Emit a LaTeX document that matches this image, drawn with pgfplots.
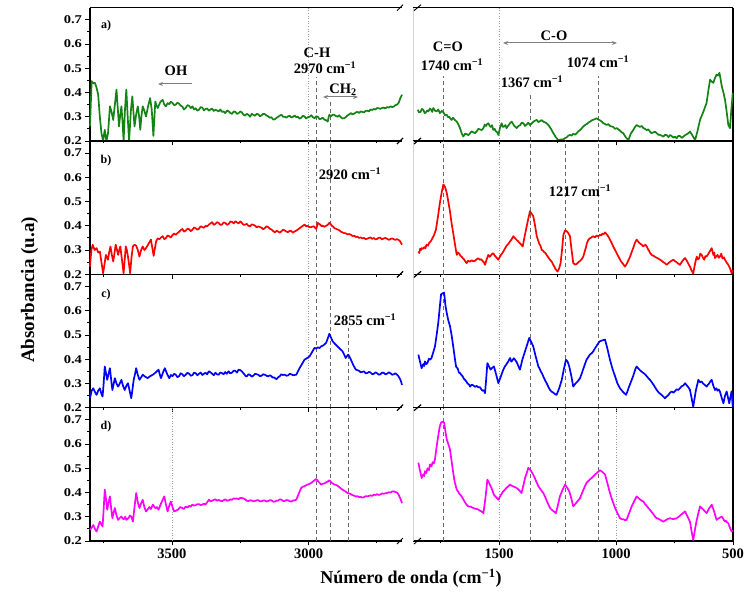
\documentclass[border=0pt]{standalone}
\usepackage{fontspec}
\setmainfont{Liberation Serif}
\usepackage{pgfplots}
\pgfplotsset{compat=1.18}
\usetikzlibrary{arrows.meta}
\definecolor{cgreen}{RGB}{20,130,20}
\definecolor{cred}{RGB}{255,0,0}
\definecolor{cblue}{RGB}{0,0,255}
\definecolor{cmag}{RGB}{255,0,255}
\definecolor{dgray}{RGB}{105,105,105}
\newcommand{\tf}{\fontsize{14.5}{16}\selectfont\bfseries}
\newcommand{\af}{\fontsize{14.5}{17}\selectfont\bfseries}
\newcommand{\cmm}{cm\textsuperscript{−1}}
\newcommand{\yl}[1]{\scalebox{1}[0.82]{#1}}
\tikzset{
  dl/.style={dgray, line width=0.8pt, dash pattern=on 4pt off 3pt},
  dt/.style={gray!80, dotted, line width=0.6pt},
}
\pgfplotsset{
  panel/.style={scale only axis, height=133.3pt, ymin=0.2, ymax=0.75, clip=false, x dir=reverse,
    axis x line*=box, xtick pos=bottom, tick align=outside,
    axis line style={line width=1.2pt, black},
    major tick length=4.5pt, minor tick length=2.5pt,
    tick style={black, line width=0.9pt},
    tick label style={font=\tf},
    yticklabel style={inner ysep=0pt},
    every axis plot/.append style={line width=1.7pt, line join=round}},
  leftp/.style={panel, width=312pt, xmin=2658, xmax=3800, axis y line*=left, ytick pos=left,
    ytick={0.2,0.3,0.4,0.5,0.6,0.7}, yticklabels={\yl{0.2},\yl{0.3},\yl{0.4},\yl{0.5},\yl{0.6},\yl{0.7}},
    minor ytick={0.25,0.35,0.45,0.55,0.65},
    xtick={3500,3000}, minor xtick={3750,3250,2750}},
  rightp/.style={panel, width=320pt, xmin=500, xmax=1868, axis y line*=right, ytick=\empty,
    xtick={1500,1000,500}, minor xtick={1750,1250,750}},
}
\newcommand{\brkL}{\draw[line width=0.9pt] ([xshift=-5pt,yshift=-3pt]rel axis cs:1,0) -- ([xshift=1pt,yshift=3pt]rel axis cs:1,0);
  \draw[line width=0.9pt] ([xshift=-5pt,yshift=-3pt]rel axis cs:1,1) -- ([xshift=1pt,yshift=3pt]rel axis cs:1,1);}
\newcommand{\brkR}{\draw[gray!35, line width=0.6pt] (rel axis cs:0,0) -- (rel axis cs:0,1);
  \draw[line width=0.9pt] ([xshift=1pt,yshift=-3pt]rel axis cs:0,0) -- ([xshift=8pt,yshift=3pt]rel axis cs:0,0);
  \draw[line width=0.9pt] ([xshift=1pt,yshift=-3pt]rel axis cs:0,1) -- ([xshift=8pt,yshift=3pt]rel axis cs:0,1);}
\begin{document}
\begin{tikzpicture}[x=1pt,y=1pt]
\useasboundingbox (0,0) rectangle (745,592);
% ---------------- panel a ----------------
\begin{axis}[leftp, at={(90pt,451pt)}, anchor=south west, xticklabels={,,}]
\draw[dt] (axis cs:3000,0.2) -- (axis cs:3000,0.75);
\draw[dl] (axis cs:2970,0.2) -- (axis cs:2970,0.466);
\draw[dl] (axis cs:2920,0.2) -- (axis cs:2920,0.37);
\addplot[cgreen] coordinates {
(3800,0.260)(3794,0.447)(3788,0.438)(3782,0.440)(3776,0.420)(3770,0.391)(3764,0.300)(3758,0.232)(3752,0.200)(3746,0.246)(3740,0.200)(3734,0.232)
(3727,0.343)(3721,0.320)(3715,0.287)(3709,0.350)(3703,0.412)(3698,0.330)(3694,0.260)(3690,0.300)(3685,0.343)(3681,0.280)(3677,0.200)(3672,0.330)(3667,0.412)(3662,0.300)(3657,0.200)
(3650,0.330)(3645,0.384)(3641,0.320)(3637,0.260)(3631,0.310)(3625,0.343)(3620,0.300)(3616,0.246)(3612,0.300)(3607,0.343)(3601,0.325)(3595,0.301)(3588,0.340)(3580,0.377)(3574,0.330)(3568,0.221)
(3561,0.363)(3556,0.345)(3552,0.336)(3543,0.360)(3534,0.370)(3528,0.350)(3522,0.343)(3516,0.356)(3510,0.352)(3504,0.362)(3498,0.357)(3492,0.348)(3486,0.350)(3480,0.358)(3474,0.354)(3468,0.346)(3462,0.342)(3456,0.330)(3450,0.336)(3443,0.348)(3437,0.345)(3431,0.336)(3425,0.343)
(3419,0.330)(3413,0.335)(3407,0.325)(3401,0.329)(3395,0.340)(3389,0.338)(3383,0.326)(3377,0.332)(3371,0.334)(3365,0.325)(3359,0.330)(3353,0.334)(3347,0.324)(3341,0.329)(3335,0.326)(3329,0.322)(3323,0.330)(3317,0.320)(3311,0.322)(3305,0.315)(3298,0.326)(3292,0.322)(3286,0.315)(3280,0.312)(3274,0.322)(3268,0.320)(3262,0.312)(3256,0.315)(3250,0.322)(3244,0.318)(3238,0.308)(3232,0.305)
(3226,0.312)(3220,0.308)(3214,0.300)(3208,0.312)(3202,0.308)(3196,0.304)(3190,0.312)(3184,0.310)(3178,0.302)(3172,0.306)(3166,0.312)(3160,0.311)(3154,0.305)(3148,0.302)(3142,0.296)(3136,0.298)(3129,0.288)(3123,0.290)(3117,0.296)(3111,0.300)(3105,0.305)(3099,0.308)(3093,0.300)(3087,0.300)(3081,0.296)(3075,0.302)(3069,0.304)(3063,0.297)(3057,0.300)(3051,0.305)(3045,0.298)(3039,0.300)
(3033,0.292)(3027,0.296)(3021,0.304)(3015,0.301)(3009,0.293)(3003,0.298)(2996,0.300)(2990,0.306)(2984,0.298)(2978,0.294)(2972,0.302)(2966,0.300)(2960,0.290)(2954,0.292)(2948,0.296)(2942,0.288)(2936,0.286)(2930,0.280)(2926,0.300)(2924,0.308)(2918,0.302)(2912,0.308)(2906,0.308)(2900,0.303)(2894,0.300)(2888,0.306)(2882,0.298)(2876,0.293)(2870,0.294)(2864,0.298)(2858,0.305)
(2851,0.310)(2845,0.315)(2839,0.310)(2833,0.313)(2827,0.318)(2821,0.320)(2815,0.316)(2809,0.322)(2803,0.320)(2797,0.318)(2791,0.324)(2785,0.325)(2779,0.322)(2773,0.330)(2767,0.328)(2761,0.332)(2755,0.330)(2749,0.336)(2743,0.335)(2737,0.333)(2731,0.336)(2725,0.338)(2719,0.334)(2713,0.340)(2706,0.338)(2700,0.343)(2694,0.340)(2688,0.342)(2682,0.348)(2676,0.350)(2670,0.358)(2664,0.377)(2658,0.391)};
\brkL
\end{axis}
\begin{axis}[rightp, at={(413pt,451pt)}, anchor=south west, xticklabels={,,}]
\draw[dt] (axis cs:1500,0.2) -- (axis cs:1500,0.75);
\draw[dl] (axis cs:1740,0.2) -- (axis cs:1740,0.47);
\draw[dl] (axis cs:1367,0.2) -- (axis cs:1367,0.40);
\draw[dl] (axis cs:1074,0.2) -- (axis cs:1074,0.47);
\addplot[cgreen] coordinates {
(1848,0.329)(1842,0.318)(1836,0.320)(1830,0.332)(1824,0.329)(1818,0.315)(1813,0.318)(1807,0.326)(1802,0.322)(1796,0.334)(1791,0.330)(1786,0.320)(1781,0.336)(1774,0.325)(1767,0.322)(1760,0.330)(1753,0.315)(1745,0.324)(1738,0.318)(1731,0.306)(1724,0.308)(1718,0.298)(1713,0.300)(1708,0.292)(1703,0.287)(1697,0.296)(1692,0.290)(1686,0.284)(1681,0.280)
(1674,0.268)(1667,0.253)(1660,0.232)(1653,0.218)(1645,0.230)(1638,0.228)(1631,0.224)(1624,0.232)(1617,0.240)(1610,0.236)(1603,0.232)(1596,0.239)(1589,0.250)(1582,0.248)(1574,0.245)(1567,0.253)(1561,0.268)(1556,0.262)(1551,0.270)(1546,0.273)(1540,0.262)(1535,0.258)(1530,0.265)(1525,0.246)(1519,0.250)(1514,0.240)(1508,0.236)(1503,0.225)
(1496,0.255)(1489,0.273)(1484,0.258)(1478,0.260)(1473,0.266)(1468,0.253)(1462,0.262)(1457,0.268)(1451,0.276)(1446,0.280)(1440,0.270)(1435,0.262)(1430,0.258)(1425,0.253)(1417,0.262)(1410,0.265)(1403,0.276)(1396,0.273)(1389,0.262)(1382,0.268)(1375,0.275)(1368,0.266)(1361,0.272)(1353,0.280)(1346,0.284)(1339,0.287)(1332,0.278)(1325,0.282)(1318,0.286)(1311,0.280)
(1300,0.275)(1289,0.266)(1278,0.250)(1268,0.232)(1257,0.215)(1247,0.204)(1236,0.206)(1225,0.207)(1218,0.212)(1211,0.215)(1204,0.222)(1197,0.225)(1190,0.222)(1183,0.230)(1175,0.226)(1168,0.232)(1161,0.240)(1154,0.245)(1147,0.252)(1140,0.260)(1132,0.266)(1125,0.270)(1118,0.276)(1111,0.280)
(1104,0.285)(1097,0.288)(1090,0.290)(1083,0.294)(1075,0.288)(1068,0.285)(1061,0.280)(1054,0.273)(1047,0.270)(1040,0.266)(1033,0.270)(1026,0.262)(1019,0.260)(1012,0.258)(1004,0.250)(997,0.253)(990,0.248)(983,0.243)(976,0.236)(969,0.232)(958,0.215)(947,0.204)(937,0.230)(926,0.246)(919,0.258)(912,0.266)
(905,0.262)(898,0.258)(890,0.262)(883,0.253)(876,0.250)(869,0.245)(862,0.248)(855,0.239)(848,0.232)(840,0.236)(833,0.238)(826,0.232)(819,0.226)(812,0.225)(805,0.222)(798,0.218)(790,0.226)(783,0.224)(776,0.216)(769,0.225)(762,0.220)(755,0.214)(748,0.218)(741,0.211)(733,0.222)(726,0.220)(719,0.213)(712,0.218)(705,0.224)(698,0.228)(691,0.232)(684,0.239)(678,0.230)(673,0.222)(667,0.212)(662,0.204)
(652,0.240)(641,0.287)(627,0.320)(613,0.357)(605,0.410)(598,0.453)(591,0.445)(584,0.440)(577,0.460)(570,0.474)(564,0.470)(558,0.481)(553,0.455)(548,0.426)(541,0.400)(534,0.370)(527,0.320)(520,0.266)(513,0.253)(507,0.330)(501,0.398)};
\brkR
\end{axis}
% ---------------- panel b ----------------
\begin{axis}[leftp, at={(90pt,317.7pt)}, anchor=south west, xticklabels={,,}]
\draw[dt] (axis cs:3000,0.2) -- (axis cs:3000,0.75);
\draw[dl] (axis cs:2970,0.2) -- (axis cs:2970,0.75);
\draw[dl] (axis cs:2920,0.2) -- (axis cs:2920,0.75);
\addplot[cred] coordinates {
(3800,0.232)(3795,0.300)(3790,0.322)(3783,0.300)(3776,0.308)(3770,0.290)(3764,0.294)(3758,0.250)(3752,0.204)(3747,0.240)(3742,0.280)(3738,0.270)(3734,0.260)(3730,0.290)(3725,0.315)(3720,0.280)
(3715,0.253)(3710,0.290)(3706,0.322)(3701,0.300)(3697,0.280)(3693,0.300)(3689,0.315)(3683,0.260)(3677,0.204)(3673,0.260)(3669,0.315)(3665,0.300)(3661,0.273)(3657,0.240)(3653,0.204)(3648,0.270)
(3643,0.315)(3637,0.322)(3631,0.318)(3625,0.300)(3619,0.273)(3613,0.300)(3607,0.315)(3601,0.300)(3595,0.308)(3586,0.325)(3577,0.343)(3572,0.310)(3567,0.276)(3562,0.310)(3558,0.336)(3552,0.348)(3546,0.345)
(3540,0.352)(3534,0.357)(3528,0.345)(3522,0.350)(3516,0.360)(3510,0.357)(3504,0.352)(3498,0.362)(3492,0.368)(3486,0.363)(3480,0.370)(3474,0.375)(3468,0.382)(3462,0.387)(3456,0.376)(3450,0.380)(3443,0.388)(3437,0.386)(3431,0.378)(3425,0.384)(3419,0.393)(3413,0.390)(3407,0.384)(3401,0.388)(3395,0.398)(3389,0.395)(3383,0.392)(3377,0.400)(3371,0.398)(3365,0.405)(3359,0.410)(3353,0.415)
(3347,0.404)(3341,0.408)(3335,0.415)(3329,0.412)(3323,0.404)(3317,0.405)(3311,0.414)(3305,0.412)(3298,0.404)(3292,0.408)(3286,0.418)(3280,0.416)(3274,0.410)(3268,0.419)(3262,0.414)(3256,0.410)(3250,0.418)(3244,0.412)(3238,0.404)(3232,0.405)(3226,0.408)(3220,0.400)(3214,0.398)(3208,0.406)(3202,0.404)(3196,0.401)(3190,0.394)(3184,0.398)(3178,0.395)(3172,0.392)(3166,0.386)(3160,0.391)
(3154,0.398)(3148,0.395)(3142,0.388)(3136,0.385)(3129,0.378)(3123,0.373)(3117,0.380)(3111,0.376)(3105,0.372)(3099,0.378)(3093,0.384)(3087,0.381)(3081,0.376)(3075,0.374)(3069,0.380)(3063,0.378)(3057,0.372)(3051,0.377)(3045,0.380)(3039,0.385)(3033,0.390)(3027,0.395)(3021,0.400)(3015,0.405)(3009,0.398)(3003,0.400)(2996,0.394)(2990,0.395)(2981,0.398)(2972,0.387)
(2966,0.412)(2962,0.408)(2957,0.405)(2952,0.398)(2948,0.401)(2942,0.396)(2936,0.400)(2930,0.404)(2924,0.412)(2918,0.406)(2915,0.400)(2910,0.397)(2906,0.391)(2900,0.388)(2894,0.385)(2888,0.382)(2882,0.376)(2876,0.373)(2870,0.370)(2864,0.369)(2858,0.365)(2851,0.366)(2845,0.363)(2839,0.358)(2833,0.359)(2827,0.354)(2821,0.355)(2815,0.350)(2809,0.352)(2803,0.348)(2797,0.350)
(2791,0.345)(2785,0.347)(2779,0.350)(2773,0.352)(2767,0.346)(2761,0.350)(2755,0.344)(2749,0.346)(2743,0.351)(2737,0.350)(2731,0.344)(2725,0.348)(2719,0.350)(2713,0.347)(2706,0.342)(2700,0.346)(2694,0.348)(2688,0.345)(2682,0.342)(2676,0.345)(2671,0.342)(2666,0.338)(2662,0.330)(2658,0.322)};
\brkL
\end{axis}
\begin{axis}[rightp, at={(413pt,317.7pt)}, anchor=south west, xticklabels={,,}]
\draw[dt] (axis cs:1500,0.2) -- (axis cs:1500,0.75);
\draw[dl] (axis cs:1740,0.2) -- (axis cs:1740,0.75);
\draw[dl] (axis cs:1367,0.2) -- (axis cs:1367,0.75);
\draw[dl] (axis cs:1217,0.2) -- (axis cs:1217,0.75);
\draw[dl] (axis cs:1074,0.2) -- (axis cs:1074,0.75);
\addplot[cred] coordinates {
(1845,0.294)(1841,0.288)(1838,0.305)(1834,0.300)(1831,0.308)(1825,0.305)(1820,0.312)(1815,0.308)(1810,0.322)(1804,0.318)(1799,0.330)(1793,0.335)(1788,0.343)(1779,0.360)(1770,0.384)(1761,0.440)(1753,0.495)(1745,0.540)(1738,0.571)(1731,0.560)(1724,0.537)
(1717,0.500)(1710,0.460)(1703,0.410)(1696,0.370)(1688,0.320)(1681,0.280)(1676,0.290)(1670,0.285)(1665,0.276)(1660,0.273)(1655,0.266)(1650,0.262)(1645,0.254)(1639,0.246)(1632,0.256)(1625,0.252)(1617,0.258)(1610,0.253)(1603,0.256)(1596,0.262)(1589,0.266)(1582,0.260)(1576,0.262)(1571,0.255)(1565,0.250)(1560,0.239)
(1553,0.262)(1546,0.280)(1540,0.272)(1535,0.278)(1530,0.284)(1525,0.287)(1519,0.278)(1514,0.272)(1508,0.266)(1503,0.260)(1497,0.272)(1492,0.280)(1487,0.286)(1482,0.294)(1475,0.306)(1468,0.318)(1460,0.326)(1453,0.336)(1446,0.345)(1439,0.357)(1433,0.350)(1428,0.345)(1423,0.340)(1418,0.336)(1413,0.330)(1408,0.325)(1403,0.320)(1399,0.315)
(1390,0.360)(1382,0.398)(1375,0.430)(1368,0.460)(1361,0.450)(1354,0.440)(1346,0.400)(1339,0.357)(1333,0.340)(1328,0.325)(1323,0.318)(1318,0.301)(1313,0.298)(1308,0.292)(1302,0.288)(1297,0.280)(1290,0.270)(1282,0.260)(1275,0.252)(1268,0.239)(1259,0.222)(1250,0.211)
(1243,0.225)(1237,0.246)(1231,0.300)(1225,0.363)(1218,0.381)(1211,0.378)(1204,0.370)(1197,0.357)(1190,0.300)(1183,0.246)(1175,0.240)(1168,0.243)(1161,0.250)(1154,0.255)(1147,0.262)(1140,0.273)(1135,0.290)(1129,0.310)(1124,0.330)(1118,0.343)
(1113,0.348)(1108,0.350)(1102,0.355)(1097,0.357)(1090,0.352)(1083,0.360)(1076,0.356)(1069,0.363)(1063,0.360)(1058,0.368)(1052,0.366)(1047,0.373)(1041,0.366)(1036,0.360)(1031,0.352)(1026,0.343)(1019,0.330)(1012,0.315)(1004,0.300)(997,0.287)(988,0.270)(980,0.255)(971,0.244)(962,0.232)(956,0.240)(951,0.250)(945,0.262)(940,0.273)(933,0.292)(926,0.310)(919,0.330)(912,0.343)
(906,0.336)(901,0.330)(895,0.325)(890,0.322)(885,0.316)(880,0.318)(874,0.322)(869,0.315)(864,0.305)(858,0.295)(853,0.286)(848,0.280)(839,0.276)(830,0.270)(821,0.266)(812,0.260)(805,0.256)(798,0.250)(791,0.246)(784,0.239)(776,0.246)(769,0.252)(762,0.256)(755,0.260)(748,0.254)(741,0.250)(734,0.244)(727,0.239)(721,0.248)(716,0.255)(710,0.262)(705,0.267)(699,0.258)(694,0.250)
(689,0.240)(684,0.232)(677,0.215)(670,0.204)(662,0.245)(655,0.273)(650,0.262)(645,0.265)(640,0.285)(634,0.280)(628,0.268)(623,0.260)(618,0.275)(613,0.273)(607,0.282)(602,0.290)(596,0.300)(591,0.308)(584,0.280)(580,0.290)(577,0.267)(571,0.275)(566,0.280)(561,0.268)(556,0.273)(550,0.285)(545,0.265)(539,0.270)(534,0.260)
(527,0.248)(520,0.239)(513,0.225)(506,0.204)(501,0.218)};
\brkR
\end{axis}
% ---------------- panel c ----------------
\begin{axis}[leftp, at={(90pt,184.3pt)}, anchor=south west, xticklabels={,,}]
\draw[dt] (axis cs:3000,0.2) -- (axis cs:3000,0.75);
\draw[dl] (axis cs:2970,0.2) -- (axis cs:2970,0.75);
\draw[dl] (axis cs:2920,0.2) -- (axis cs:2920,0.75);
\draw[dl] (axis cs:2855,0.2) -- (axis cs:2855,0.53);
\addplot[cblue] coordinates {
(3800,0.239)(3794,0.270)(3788,0.280)(3782,0.265)(3776,0.253)(3770,0.270)(3764,0.280)(3759,0.260)(3754,0.246)(3750,0.300)(3746,0.370)(3741,0.340)(3737,0.315)(3732,0.340)(3727,0.363)(3722,0.310)
(3718,0.273)(3713,0.300)(3709,0.322)(3703,0.300)(3697,0.287)(3691,0.300)(3685,0.315)(3679,0.290)(3673,0.273)(3667,0.290)(3661,0.301)(3655,0.270)(3649,0.239)(3644,0.280)(3640,0.315)(3635,0.340)
(3631,0.363)(3625,0.335)(3619,0.315)(3613,0.325)(3607,0.336)(3598,0.328)(3589,0.322)(3580,0.330)(3570,0.336)(3560,0.345)(3549,0.357)(3544,0.335)(3540,0.322)(3533,0.345)(3526,0.363)(3518,0.340)
(3510,0.322)(3504,0.335)(3498,0.330)(3492,0.340)(3486,0.336)(3480,0.326)(3474,0.330)(3468,0.342)(3462,0.338)(3456,0.330)(3450,0.336)(3443,0.344)(3437,0.340)(3431,0.332)(3425,0.334)(3419,0.345)(3413,0.342)(3407,0.334)(3401,0.340)(3395,0.345)(3389,0.335)(3383,0.340)(3377,0.344)(3371,0.338)(3365,0.350)(3359,0.346)(3353,0.340)(3347,0.334)(3341,0.344)(3335,0.338)(3329,0.336)
(3323,0.345)(3317,0.343)(3311,0.338)(3305,0.347)(3299,0.340)(3293,0.350)(3287,0.342)(3280,0.345)(3274,0.353)(3268,0.352)(3262,0.345)(3256,0.357)(3250,0.355)(3244,0.350)(3240,0.344)(3235,0.338)(3230,0.330)(3226,0.329)(3220,0.338)(3214,0.335)(3208,0.328)(3202,0.332)(3196,0.340)(3190,0.338)(3184,0.336)(3178,0.330)(3172,0.332)(3166,0.338)(3160,0.336)(3154,0.332)(3148,0.329)
(3142,0.334)(3136,0.330)(3131,0.324)(3126,0.325)(3121,0.320)(3117,0.318)(3111,0.326)(3105,0.330)(3100,0.338)(3095,0.335)(3087,0.336)(3081,0.332)(3075,0.333)(3069,0.340)(3063,0.338)(3057,0.334)(3051,0.335)(3045,0.336)(3039,0.350)(3033,0.363)(3024,0.380)(3015,0.398)(3005,0.405)(2996,0.412)
(2987,0.430)(2978,0.447)(2972,0.444)(2966,0.449)(2960,0.446)(2954,0.453)(2945,0.458)(2936,0.467)(2930,0.485)(2924,0.505)(2918,0.490)(2912,0.474)(2903,0.463)(2894,0.453)(2885,0.443)(2876,0.433)(2870,0.420)(2864,0.405)
(2860,0.412)(2855,0.419)(2850,0.410)(2845,0.398)(2836,0.375)(2827,0.357)(2821,0.355)(2815,0.352)(2809,0.346)(2803,0.348)(2797,0.350)(2791,0.342)(2785,0.343)(2779,0.348)(2773,0.345)(2767,0.338)(2761,0.340)(2755,0.346)(2749,0.342)(2743,0.336)(2737,0.338)(2731,0.345)(2725,0.344)(2719,0.338)(2713,0.340)
(2706,0.346)(2700,0.342)(2694,0.336)(2688,0.338)(2682,0.342)(2676,0.336)(2671,0.330)(2666,0.320)(2662,0.310)(2658,0.294)};
\brkL
\end{axis}
\begin{axis}[rightp, at={(413pt,184.3pt)}, anchor=south west, xticklabels={,,}]
\draw[dt] (axis cs:1500,0.2) -- (axis cs:1500,0.75);
\draw[dl] (axis cs:1740,0.2) -- (axis cs:1740,0.75);
\draw[dl] (axis cs:1367,0.2) -- (axis cs:1367,0.75);
\draw[dl] (axis cs:1217,0.2) -- (axis cs:1217,0.75);
\draw[dl] (axis cs:1074,0.2) -- (axis cs:1074,0.75);
\addplot[cblue] coordinates {
(1845,0.419)(1838,0.390)(1831,0.363)(1824,0.380)(1820,0.372)(1817,0.391)(1811,0.380)(1806,0.385)(1800,0.402)(1795,0.398)(1789,0.405)(1784,0.420)(1774,0.453)(1767,0.500)(1760,0.550)(1754,0.610)(1748,0.668)(1741,0.672)(1735,0.675)(1729,0.620)
(1724,0.592)(1717,0.560)(1710,0.537)(1703,0.500)(1696,0.453)(1690,0.410)(1684,0.370)(1676,0.360)(1672,0.345)(1667,0.343)(1661,0.335)(1656,0.330)(1651,0.320)(1646,0.315)(1640,0.308)(1635,0.300)(1629,0.296)(1624,0.287)(1617,0.295)(1610,0.292)(1603,0.286)(1596,0.290)(1589,0.284)(1582,0.285)
(1576,0.276)(1571,0.270)(1565,0.272)(1560,0.260)(1555,0.320)(1550,0.384)(1543,0.370)(1536,0.357)(1529,0.365)(1522,0.370)(1512,0.335)(1503,0.301)(1492,0.330)(1482,0.357)(1475,0.370)(1468,0.380)(1460,0.392)(1453,0.405)(1448,0.390)(1443,0.395)(1437,0.404)(1432,0.398)
(1426,0.390)(1421,0.380)(1416,0.368)(1411,0.357)(1405,0.380)(1400,0.400)(1389,0.433)(1380,0.460)(1371,0.488)(1362,0.470)(1354,0.453)(1343,0.410)(1332,0.370)(1327,0.362)(1322,0.350)(1316,0.340)(1311,0.329)(1303,0.312)(1296,0.300)(1289,0.285)(1282,0.273)(1275,0.266)(1268,0.262)(1261,0.256)(1254,0.253)
(1243,0.280)(1232,0.315)(1223,0.360)(1214,0.398)(1207,0.390)(1200,0.370)(1191,0.330)(1183,0.287)(1175,0.298)(1168,0.305)(1161,0.312)(1154,0.322)(1147,0.340)(1140,0.360)(1133,0.380)(1126,0.398)(1118,0.410)(1111,0.420)(1104,0.425)(1097,0.433)(1090,0.445)(1083,0.455)(1076,0.466)(1069,0.474)
(1058,0.478)(1047,0.481)(1036,0.440)(1026,0.398)(1015,0.360)(1004,0.329)(994,0.300)(983,0.280)(970,0.265)(957,0.253)(951,0.268)(945,0.285)(939,0.300)(933,0.315)(927,0.330)(922,0.345)(917,0.360)(912,0.370)(905,0.362)(898,0.355)(890,0.348)(883,0.343)(876,0.338)(869,0.330)
(862,0.322)(855,0.315)(848,0.306)(840,0.295)(833,0.284)(826,0.273)(817,0.262)(808,0.255)(800,0.248)(791,0.239)(784,0.246)(776,0.252)(769,0.262)(762,0.267)(755,0.262)(748,0.268)(741,0.276)(734,0.273)(727,0.280)(720,0.288)(712,0.292)(705,0.301)(700,0.295)(694,0.288)(689,0.282)(684,0.273)(677,0.240)(670,0.204)(659,0.270)(648,0.315)
(641,0.305)(634,0.308)(628,0.300)(623,0.296)(618,0.292)(613,0.287)(607,0.295)(602,0.300)(596,0.310)(591,0.315)(584,0.290)(577,0.273)(571,0.280)(566,0.270)(561,0.275)(556,0.267)(548,0.240)(541,0.218)(534,0.250)(527,0.267)(521,0.240)(516,0.218)(511,0.245)(506,0.267)(501,0.204)};
\brkR
\end{axis}
% ---------------- panel d ----------------
\begin{axis}[leftp, at={(90pt,51pt)}, anchor=south west, xticklabels={3500,3000}]
\draw[dt] (axis cs:3500,0.2) -- (axis cs:3500,0.75);
\draw[dl] (axis cs:2970,0.2) -- (axis cs:2970,0.75);
\draw[dl] (axis cs:2920,0.2) -- (axis cs:2920,0.75);
\draw[dl] (axis cs:2855,0.2) -- (axis cs:2855,0.75);
\addplot[cmag] coordinates {
(3800,0.246)(3794,0.255)(3788,0.266)(3782,0.250)(3776,0.239)(3770,0.260)(3764,0.280)(3759,0.270)(3754,0.260)(3750,0.330)(3746,0.412)(3741,0.370)(3737,0.329)(3732,0.360)(3727,0.384)(3722,0.330)
(3718,0.294)(3713,0.320)(3709,0.336)(3703,0.305)(3697,0.287)(3691,0.295)(3685,0.301)(3680,0.292)(3676,0.290)(3671,0.300)(3667,0.287)(3662,0.292)(3658,0.296)(3654,0.305)(3649,0.301)(3643,0.280)(3637,0.340)(3631,0.398)(3625,0.360)(3619,0.336)
(3613,0.355)(3607,0.370)(3601,0.340)(3595,0.322)(3589,0.330)(3583,0.340)(3577,0.332)(3570,0.350)(3565,0.342)(3560,0.335)(3555,0.340)(3549,0.329)(3538,0.360)(3528,0.384)(3522,0.350)(3516,0.322)(3510,0.345)(3504,0.363)(3498,0.340)(3492,0.322)
(3484,0.326)(3477,0.330)(3470,0.340)(3462,0.336)(3456,0.332)(3450,0.342)(3443,0.338)(3437,0.345)(3431,0.342)(3425,0.350)(3419,0.346)(3413,0.348)(3407,0.352)(3401,0.352)(3395,0.348)(3389,0.350)(3383,0.354)(3377,0.350)(3371,0.360)(3365,0.370)(3359,0.364)(3353,0.366)(3347,0.370)(3341,0.372)(3335,0.366)(3329,0.370)(3323,0.366)(3317,0.364)(3311,0.368)(3305,0.372)
(3298,0.366)(3292,0.368)(3286,0.372)(3280,0.370)(3274,0.376)(3268,0.374)(3262,0.376)(3256,0.372)(3250,0.378)(3244,0.377)(3238,0.376)(3232,0.372)(3226,0.366)(3220,0.365)(3214,0.368)(3208,0.367)(3202,0.364)(3196,0.365)(3190,0.368)(3184,0.368)(3178,0.364)(3172,0.364)(3166,0.367)(3160,0.367)(3154,0.363)(3148,0.365)(3142,0.368)(3136,0.368)(3129,0.362)(3123,0.363)(3117,0.366)(3111,0.367)
(3105,0.372)(3099,0.370)(3093,0.365)(3087,0.365)(3081,0.369)(3075,0.368)(3069,0.364)(3063,0.363)(3057,0.367)(3051,0.368)(3045,0.370)(3036,0.395)(3027,0.419)(3021,0.424)(3015,0.426)(3009,0.430)(3003,0.433)(2996,0.436)(2990,0.440)(2981,0.448)(2972,0.456)(2963,0.444)(2954,0.433)(2948,0.436)(2942,0.438)
(2936,0.442)(2930,0.445)(2924,0.451)(2915,0.440)(2906,0.433)(2900,0.432)(2894,0.428)(2885,0.420)(2876,0.412)(2866,0.405)(2857,0.398)(2851,0.396)(2845,0.393)(2839,0.389)(2833,0.387)(2827,0.383)(2821,0.385)(2815,0.381)(2809,0.382)(2803,0.379)(2797,0.381)(2791,0.385)(2785,0.384)(2779,0.386)(2773,0.388)
(2767,0.386)(2761,0.391)(2755,0.390)(2749,0.393)(2743,0.390)(2737,0.392)(2731,0.396)(2725,0.395)(2719,0.397)(2713,0.398)(2706,0.401)(2700,0.400)(2694,0.404)(2688,0.405)(2682,0.402)(2676,0.400)(2671,0.392)(2666,0.380)(2662,0.370)(2658,0.356)};
\brkL
\end{axis}
\begin{axis}[rightp, at={(413pt,51pt)}, anchor=south west, xticklabels={1500,1000,500}]
\draw[dt] (axis cs:1500,0.2) -- (axis cs:1500,0.75);
\draw[dt] (axis cs:1000,0.2) -- (axis cs:1000,0.75);
\draw[dl] (axis cs:1740,0.2) -- (axis cs:1740,0.75);
\draw[dl] (axis cs:1367,0.2) -- (axis cs:1367,0.75);
\draw[dl] (axis cs:1217,0.2) -- (axis cs:1217,0.75);
\draw[dl] (axis cs:1074,0.2) -- (axis cs:1074,0.75);
\addplot[cmag] coordinates {
(1845,0.523)(1838,0.490)(1831,0.460)(1824,0.475)(1820,0.468)(1817,0.488)(1811,0.480)(1806,0.500)(1800,0.492)(1795,0.516)(1789,0.508)(1784,0.525)(1779,0.520)(1774,0.537)(1767,0.590)(1760,0.634)(1754,0.670)(1748,0.689)(1741,0.692)(1735,0.689)(1729,0.650)
(1724,0.620)(1717,0.600)(1710,0.578)(1703,0.530)(1696,0.481)(1690,0.445)(1681,0.412)(1675,0.404)(1670,0.395)(1665,0.390)(1660,0.384)(1653,0.372)(1646,0.360)(1639,0.350)(1632,0.343)(1623,0.342)(1614,0.338)(1605,0.334)(1596,0.332)(1589,0.330)(1582,0.325)(1575,0.322)(1567,0.315)(1558,0.380)
(1550,0.453)(1543,0.440)(1536,0.426)(1529,0.410)(1522,0.391)(1517,0.385)(1512,0.380)(1508,0.376)(1503,0.370)(1497,0.382)(1492,0.390)(1487,0.398)(1482,0.405)(1475,0.412)(1468,0.420)(1460,0.426)(1453,0.433)(1446,0.428)(1439,0.425)(1432,0.422)(1425,0.419)(1419,0.414)(1414,0.410)(1409,0.404)(1404,0.398)(1396,0.430)
(1389,0.460)(1382,0.480)(1375,0.502)(1364,0.490)(1354,0.474)(1343,0.450)(1332,0.426)(1322,0.412)(1311,0.398)(1303,0.382)(1296,0.365)(1289,0.350)(1282,0.336)(1276,0.330)(1270,0.325)(1263,0.320)(1257,0.315)(1248,0.350)(1240,0.384)(1229,0.410)
(1218,0.433)(1209,0.420)(1200,0.405)(1191,0.375)(1183,0.343)(1175,0.352)(1168,0.360)(1161,0.368)(1154,0.377)(1147,0.394)(1140,0.410)(1133,0.426)(1126,0.440)(1118,0.448)(1111,0.455)(1104,0.460)(1097,0.467)(1090,0.474)(1083,0.480)(1076,0.486)(1069,0.492)(1058,0.485)(1047,0.474)(1036,0.435)
(1026,0.398)(1015,0.365)(1004,0.336)(994,0.315)(983,0.294)(976,0.290)(969,0.290)(962,0.286)(955,0.287)(944,0.315)(933,0.343)(922,0.365)(912,0.384)(905,0.378)(898,0.372)(890,0.366)(883,0.363)(876,0.352)(869,0.345)(862,0.336)(855,0.329)(848,0.320)(840,0.310)(833,0.300)(826,0.294)
(819,0.292)(812,0.288)(805,0.284)(798,0.280)(791,0.284)(784,0.288)(776,0.292)(769,0.294)(762,0.292)(755,0.290)(748,0.292)(741,0.294)(732,0.300)(723,0.308)(714,0.315)(705,0.322)(699,0.310)(694,0.300)(689,0.290)(684,0.280)(677,0.240)(670,0.204)(662,0.250)(655,0.287)(648,0.315)(641,0.343)(634,0.336)(627,0.330)
(620,0.322)(613,0.315)(607,0.325)(602,0.335)(596,0.342)(591,0.350)(585,0.334)(580,0.320)(575,0.302)(570,0.287)(564,0.292)(559,0.295)(553,0.298)(548,0.301)(544,0.295)(541,0.290)(537,0.284)(534,0.280)(530,0.284)(527,0.278)(523,0.276)(520,0.273)(516,0.262)(513,0.255)(509,0.246)(506,0.239)(501,0.245)};
\brkR
\end{axis}
% ---------------- labels ----------------
\node[font=\fontsize{19}{22}\selectfont\bfseries, rotate=90] at (29.5,302) {Absorbancia (u.a)};
\node[font=\fontsize{18}{22}\selectfont\bfseries] at (411,14) {Número de onda (\cmm)};
\node[font=\fontsize{12}{14}\selectfont\bfseries] at (106,566) {a)};
\node[font=\fontsize{12}{14}\selectfont\bfseries] at (106,431) {b)};
\node[font=\fontsize{12}{14}\selectfont\bfseries] at (106,297) {c)};
\node[font=\fontsize{12}{14}\selectfont\bfseries] at (106,165) {d)};
\node[font=\af] at (176,521) {OH};
\draw[gray, line width=1pt, -{Stealth[length=5pt,width=4pt]}] (192,508) -- (158,508);
\node[font=\af] at (317,539) {C-H};
\node[font=\af] at (325,524) {2970 \cmm};
\node[font=\af] at (343,502) {CH\textsubscript{2}};
\draw[gray, line width=1pt, {Stealth[length=5pt,width=4pt]}-{Stealth[length=5pt,width=4pt]}] (323,495) -- (358,495);
\node[font=\af] at (448,545) {C=O};
\node[font=\af] at (452,527) {1740 \cmm};
\node[font=\af] at (554,556) {C-O};
\draw[gray, line width=1pt, {Stealth[length=5pt,width=4pt]}-{Stealth[length=5pt,width=4pt]}] (503,549) -- (617,549);
\node[font=\af] at (532,510) {1367 \cmm};
\node[font=\af] at (598,530) {1074 \cmm};
\node[font=\af] at (350,418) {2920 \cmm};
\node[font=\af] at (580,401) {1217 \cmm};
\node[font=\af] at (365,272) {2855 \cmm};
\end{tikzpicture}
\end{document}
